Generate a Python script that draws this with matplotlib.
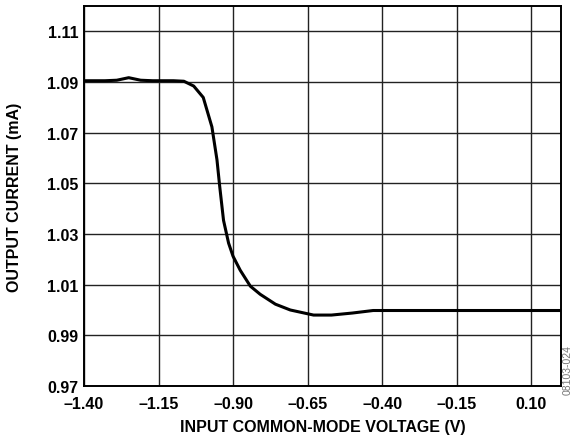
import numpy as np
import matplotlib.pyplot as plt

plt.rcParams['font.family'] = ['Liberation Sans', 'DejaVu Sans']
plt.rcParams['font.weight'] = 'bold'

voltage = [-1.40, -1.33, -1.29, -1.25, -1.21, -1.17, -1.10, -1.065, -1.032, -1.00,
           -0.971, -0.954, -0.945, -0.932, -0.915, -0.90, -0.876, -0.842, -0.809,
           -0.758, -0.708, -0.63, -0.57, -0.50, -0.43, -0.30, 0.00, 0.20]
current = [1.0905, 1.0905, 1.0907, 1.0917, 1.0907, 1.0905, 1.0905, 1.0903, 1.0884, 1.0839,
           1.0723, 1.0593, 1.049, 1.0354, 1.0264, 1.0212, 1.0157, 1.0094, 1.0062,
           1.0023, 1.0000, 0.998, 0.998, 0.9988, 0.9998, 0.9998, 0.9998, 0.9998]

xticks = [-1.40, -1.15, -0.90, -0.65, -0.40, -0.15, 0.10]
xtick_labels = ['–1.40', '–1.15', '–0.90', '–0.65', '–0.40', '–0.15', '0.10']
yticks = [0.97, 0.99, 1.01, 1.03, 1.05, 1.07, 1.09, 1.11]
ytick_labels = ['0.97', '0.99', '1.01', '1.03', '1.05', '1.07', '1.09', '1.11']

fig = plt.figure(figsize=(5.74, 4.39), dpi=100)
ax = fig.add_axes([84 / 574, 1 - 387 / 439, (561 - 84) / 574, (387 - 7) / 439])

ax.plot(voltage, current, color='black', linewidth=2.2, solid_joinstyle='round')

ax.set_xlim(-1.40, 0.20)
ax.set_ylim(0.97, 1.12)
ax.set_xticks(xticks)
ax.set_xticklabels(xtick_labels)
ax.set_yticks(yticks)
ax.set_yticklabels(ytick_labels)
ax.tick_params(length=0, labelsize=11.5)
ax.tick_params(axis='x', pad=7)
ax.tick_params(axis='y', pad=4)
ax.grid(True, color='#222222', linewidth=1.0)
for s in ax.spines.values():
    s.set_linewidth(1.4)
    s.set_color('black')

ax.set_xlabel('INPUT COMMON-MODE VOLTAGE (V)', fontsize=11.5, fontweight='bold', labelpad=6)
ax.set_ylabel('OUTPUT CURRENT (mA)', fontsize=11.5, fontweight='bold', labelpad=18)

fig.text(568 / 574, 1 - 370 / 439, '08103-024', rotation=90, fontsize=7.5, color='#777777',
         fontweight='normal', ha='center', va='center')

fig.savefig('out.png', dpi=100)
